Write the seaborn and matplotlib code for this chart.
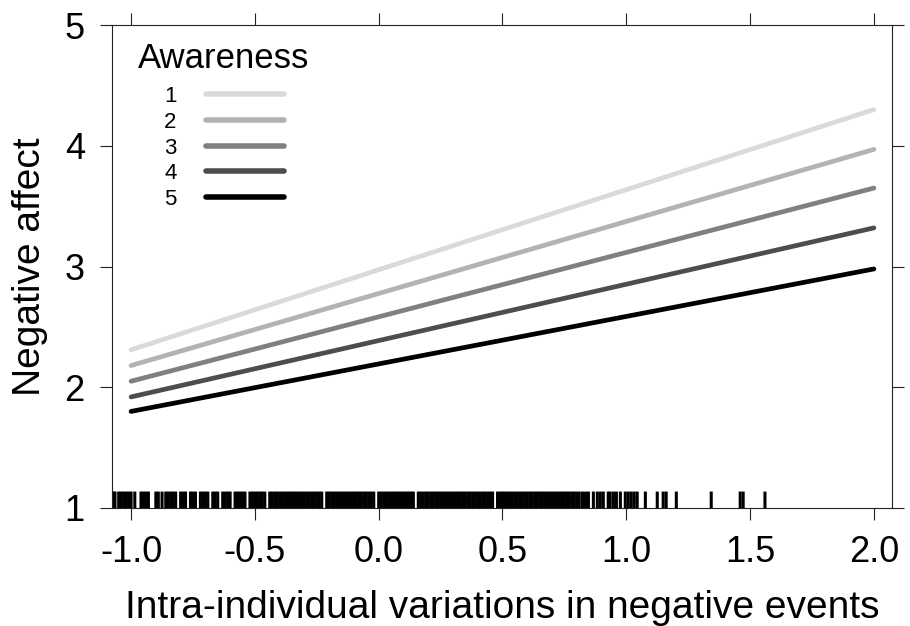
import matplotlib
matplotlib.use("Agg")
import matplotlib.pyplot as plt
import seaborn as sns
import numpy as np
import pandas as pd

sns.set_style("ticks")
plt.rcParams['font.family'] = ['Liberation Sans', 'DejaVu Sans']
plt.rcParams.update({'text.color': 'black', 'axes.labelcolor': 'black',
                     'xtick.color': 'black', 'ytick.color': 'black'})

# Predicted lines (endpoints at x = -1 and x = 2) for each awareness level
awareness_levels = ['1', '2', '3', '4', '5']
x_ends = [-1.0, 2.0]
y_start = [2.31, 2.18, 2.05, 1.92, 1.80]
y_end = [4.30, 3.97, 3.65, 3.32, 2.98]
line_colors = ['#dadada', '#b3b3b3', '#808080', '#4d4d4d', '#000000']

# Observed predictor values shown as a rug
rug_left = [-1.07, -1.065, -1.05, -1.04, -1.03, -1.02, -1.01, -1.0, -0.985,
            -0.96, -0.95, -0.94, -0.93, -0.90, -0.89, -0.875, -0.86, -0.85]
rug_mid_left = [-0.84, -0.83, -0.82, -0.80, -0.79, -0.78, -0.76, -0.75, -0.74,
                -0.72, -0.71, -0.70, -0.69, -0.67, -0.66, -0.65, -0.63, -0.62,
                -0.61, -0.60, -0.58, -0.57, -0.56, -0.55, -0.54, -0.52, -0.51,
                -0.50, -0.49, -0.48, -0.47, -0.46, -0.44, -0.43, -0.42, -0.41,
                -0.40, -0.39, -0.38, -0.37, -0.36]
rug_dense = [-0.35, -0.34, -0.33, -0.32, -0.31, -0.30, -0.29, -0.28, -0.27,
             -0.26, -0.25, -0.24, -0.23, -0.21, -0.20, -0.19, -0.18, -0.17,
             -0.16, -0.15, -0.14, -0.13, -0.12, -0.11, -0.10, -0.09, -0.08,
             -0.07, -0.06, -0.05, -0.04, -0.03, -0.02, 0.00, 0.01, 0.02,
             0.03, 0.04, 0.05, 0.06, 0.07, 0.08, 0.09, 0.10, 0.11, 0.12,
             0.13, 0.14, 0.16, 0.17, 0.18, 0.19, 0.20, 0.21, 0.22, 0.23,
             0.24, 0.25, 0.26, 0.27, 0.28, 0.29, 0.30, 0.31, 0.32, 0.33,
             0.34, 0.35, 0.36, 0.37, 0.38, 0.39, 0.40, 0.41, 0.42, 0.43,
             0.44, 0.45, 0.46, 0.48, 0.49, 0.50, 0.51, 0.52, 0.53, 0.54,
             0.55, 0.56, 0.57, 0.58, 0.59, 0.60, 0.61, 0.62, 0.63, 0.64,
             0.65, 0.66, 0.67, 0.68, 0.69, 0.70, 0.71, 0.72, 0.73, 0.74,
             0.75, 0.76, 0.77, 0.78, 0.79, 0.80, 0.81]
rug_right = [0.823, 0.835, 0.847, 0.867, 0.883, 0.895, 0.907, 0.927, 0.935,
             0.948, 0.96, 0.976, 0.996, 1.008, 1.02, 1.032, 1.044, 1.077,
             1.125, 1.149, 1.161, 1.202, 1.343, 1.46, 1.472, 1.56]

lines_df = pd.DataFrame({
    'x': np.tile(x_ends, len(awareness_levels)),
    'y': [v for pair in zip(y_start, y_end) for v in pair],
    'Awareness': np.repeat(awareness_levels, 2),
})
rug_x = rug_left + rug_mid_left + rug_dense + rug_right

fig = plt.figure(figsize=(9.1, 6.26), dpi=100)
ax = fig.add_axes([0.1231, 0.1885, 0.8571, 0.7715])

sns.lineplot(data=lines_df, x='x', y='y', hue='Awareness',
             palette=dict(zip(awareness_levels, line_colors)),
             hue_order=awareness_levels, linewidth=3.4, ax=ax, legend=False)
sns.rugplot(x=rug_x, ax=ax, height=0.034, color='black', linewidth=2.2,
            expand_margins=False, snap=False)

ax.set_xlim(-1.077, 2.073)
ax.set_ylim(1, 5)
ax.set_xticks([-1.0, -0.5, 0.0, 0.5, 1.0, 1.5, 2.0])
ax.set_xticklabels(['-1.0', '-0.5', '0.0', '0.5', '1.0', '1.5', '2.0'])
ax.set_yticks([1, 2, 3, 4, 5])
ax.tick_params(axis='both', which='both', direction='out', length=8.6,
               width=0.8, top=True, right=True, labelsize=26, pad=11,
               colors='#222222', labelcolor='black')
for side in ax.spines.values():
    side.set_visible(True)
    side.set_linewidth(0.8)
    side.set_color('#222222')

ax.set_xlabel('Intra-individual variations in negative events', fontsize=28,
              labelpad=14)
ax.set_ylabel('Negative affect', fontsize=28, labelpad=12)

leg = ax.legend(handles=ax.get_lines()[:5], labels=awareness_levels,
                title='Awareness', loc='upper left', frameon=False,
                markerfirst=False, fontsize=16, title_fontsize=25,
                handlelength=3.47, labelspacing=0.21, handletextpad=1.35,
                borderaxespad=0.0, bbox_to_anchor=(0.022, 0.983))
leg._legend_box.sep = 8
for h in leg.get_lines():
    h.set_linewidth(4.0)

fig.savefig('out.png', dpi=100)
